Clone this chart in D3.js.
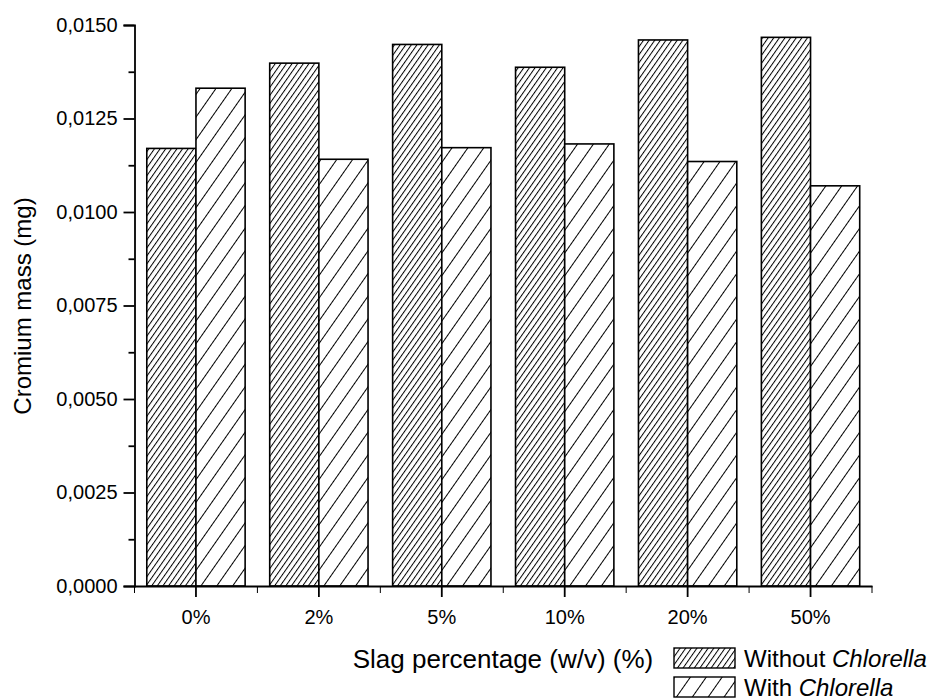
<!DOCTYPE html>
<html>
<head>
<meta charset="utf-8">
<script src="https://cdn.jsdelivr.net/npm/d3@7"></script>
<style>
  body { margin: 0; background: #fff; }
  text { font-family: "Liberation Sans", Arial, sans-serif; fill: #000; }
</style>
</head>
<body>
<div id="dataViz"></div>
<script>
/* chart data */
const categories = ["0%", "2%", "5%", "10%", "20%", "50%"];
const series = ["Without", "With"];
const withoutChlorella = [0.01170, 0.01398, 0.01448, 0.01387, 0.01460, 0.01467];
const withChlorella    = [0.01331, 0.01141, 0.01172, 0.01182, 0.01135, 0.01070];
const yTicks = [0, 0.0025, 0.005, 0.0075, 0.01, 0.0125, 0.015];
const yMinorTicks = [0.00125, 0.00375, 0.00625, 0.00875, 0.01125, 0.01375];

const W = 929, H = 700;

const svg = d3.select("#dataViz")
            .append("svg")
            .attr("width", W)
            .attr("height", H);

/* hatch patterns: dense for "without", sparse for "with" */
const defs = svg.append("defs");
const makeHatch = function(id, gap){
    const p = defs.append("pattern")
        .attr("id", id)
        .attr("patternUnits", "userSpaceOnUse")
        .attr("width", gap).attr("height", gap)
        .attr("patternTransform", "rotate(35)");
    p.append("rect").attr("width", gap).attr("height", gap).attr("fill", "#fff");
    p.append("line")
        .attr("x1", 0.5).attr("y1", 0).attr("x2", 0.5).attr("y2", gap)
        .attr("stroke", "#000").attr("stroke-width", 1);
}
makeHatch("hatchDense", 4.6);
makeHatch("hatchSparse", 13);
const fills = { Without: "url(#hatchDense)", With: "url(#hatchSparse)" };

/* scales */
const x = d3.scaleBand().domain(categories).range([134.5, 872]);
const xSub = d3.scaleBand().domain(series).range([x.bandwidth()*0.1, x.bandwidth()*0.9]);
const y = d3.scaleLinear().domain([0, 0.015]).range([586, 25]);

const loc = d3.formatLocale({ decimal: ",", thousands: ".", grouping: [3], currency: ["", ""] });
const fmt = loc.format(".4f");

/* bars */
const rows = categories.map((c, i) => ({ cat: c, Without: withoutChlorella[i], With: withChlorella[i] }));
const groups = svg.append("g").selectAll("g")
    .data(rows)
    .enter()
    .append("g")
    .attr("transform", d => `translate(${x(d.cat)},0)`);
groups.selectAll("rect")
    .data(d => series.map(s => ({ key: s, value: d[s] })))
    .enter()
    .append("rect")
    .attr("x", d => xSub(d.key))
    .attr("y", d => y(d.value))
    .attr("width", xSub.bandwidth())
    .attr("height", d => y(0) - y(d.value))
    .attr("fill", d => fills[d.key])
    .attr("stroke", "#000")
    .attr("stroke-width", 1.6);

/* y axis */
const yAxis = svg.append("g")
    .attr("transform", "translate(134.5,0)")
    .call(d3.axisLeft(y).tickValues(yTicks).tickFormat(fmt).tickSize(11).tickPadding(6));
svg.append("g")
    .attr("transform", "translate(134.5,0)")
    .call(d3.axisLeft(y).tickValues(yMinorTicks).tickFormat("").tickSize(6))
    .select(".domain").remove();
yAxis.selectAll("text").style("font-size", "20px");

/* x axis: major ticks at categories, minor at band edges */
const xAxis = svg.append("g")
    .attr("transform", `translate(0,${y(0)})`)
    .call(d3.axisBottom(x).tickSize(11).tickPadding(13).tickSizeOuter(0));
xAxis.selectAll("text").style("font-size", "20px");
const edges = categories.map(c => x(c)).concat([x.range()[1]]);
svg.append("g")
    .selectAll("line")
    .data(edges)
    .enter()
    .append("line")
    .attr("x1", d => d).attr("x2", d => d)
    .attr("y1", y(0)).attr("y2", y(0) + 7)
    .attr("stroke", "#000");

svg.selectAll(".domain, .tick line").attr("stroke", "#000").attr("stroke-width", 1.8);
svg.selectAll(".tick text").attr("fill", "#000");

/* axis titles */
svg.append("text")
    .attr("transform", "translate(31,306) rotate(-90)")
    .attr("text-anchor", "middle")
    .style("font-size", "24px")
    .text("Cromium mass (mg)");
svg.append("text")
    .attr("x", 503).attr("y", 668)
    .attr("text-anchor", "middle")
    .style("font-size", "26px")
    .text("Slag percentage (w/v) (%)");

/* legend */
const legend = svg.append("g").selectAll("g")
    .data(series)
    .enter()
    .append("g")
    .attr("transform", (d, i) => `translate(674,${648 + i*29})`);
legend.append("rect")
    .attr("width", 61).attr("height", 20)
    .attr("fill", d => fills[d])
    .attr("stroke", "#000").attr("stroke-width", 1.4);
const lt = legend.append("text")
    .attr("x", 70).attr("y", 19)
    .style("font-size", "24px");
lt.append("tspan").text(d => d + " ");
lt.append("tspan").style("font-style", "italic").text("Chlorella");
</script>
</body>
</html>
